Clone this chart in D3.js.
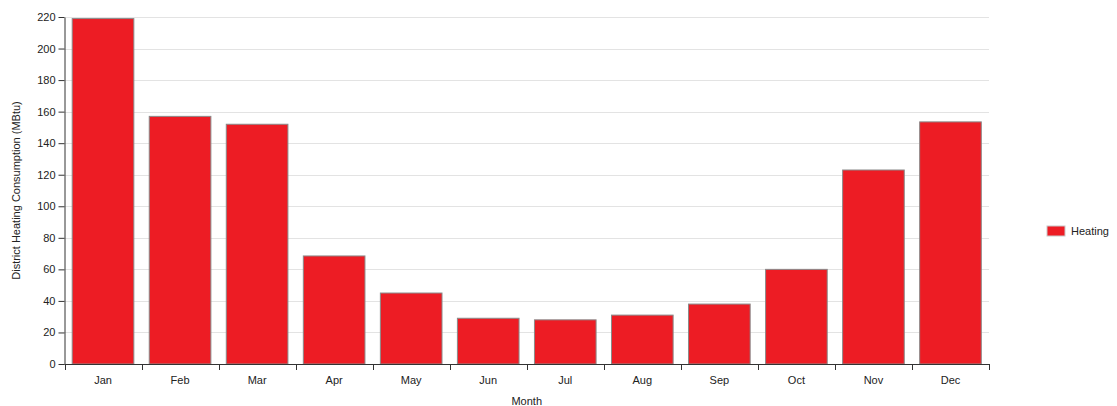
<!DOCTYPE html>
<html>
<head>
<meta charset="utf-8">
<script src="https://cdn.jsdelivr.net/npm/d3@7"></script>
<style>
  body { margin: 0; background: #fff; }
  svg { font-family: Arial, "Liberation Sans", sans-serif; }
  .axis path, .axis line { stroke: #333; }
  .axis text { fill: #222; font-size: 11px; }
  .grid line { stroke: #e3e3e3; }
</style>
</head>
<body>
<svg id="chart" width="1117" height="406"></svg>
<script>
const months = ["Jan", "Feb", "Mar", "Apr", "May", "Jun", "Jul", "Aug", "Sep", "Oct", "Nov", "Dec"];
const heating = [219, 157, 152, 68.5, 45, 29, 28, 31, 38, 60, 123, 153.5];
const yTicks = [0, 20, 40, 60, 80, 100, 120, 140, 160, 180, 200, 220];
const seriesName = "Heating";

const margin = { left: 64.5, right: 128, top: 17, bottom: 42 };
const W = 1117, H = 406;
const svg = d3.select("#chart");

const x = d3.scaleBand().domain(months).range([margin.left, W - margin.right]).paddingInner(0.2).paddingOuter(0.1);
const y = d3.scaleLinear().domain([0, 220]).range([H - margin.bottom, margin.top]);

// horizontal gridlines
svg.append("g").attr("class", "grid")
  .selectAll("line").data(yTicks.slice(1)).join("line")
  .attr("x1", margin.left).attr("x2", W - margin.right)
  .attr("y1", d => Math.round(y(d)) + 0.5).attr("y2", d => Math.round(y(d)) + 0.5);

// bars
svg.append("g").selectAll("rect").data(months).join("rect")
  .attr("x", d => x(d))
  .attr("y", (d, i) => y(heating[i]))
  .attr("width", x.bandwidth())
  .attr("height", (d, i) => y(0) - y(heating[i]))
  .attr("fill", "#ed1c24")
  .attr("stroke", "#8a8a8a")
  .attr("stroke-width", 1);

// y axis
svg.append("g").attr("class", "axis")
  .attr("transform", `translate(${margin.left},0)`)
  .call(d3.axisLeft(y).tickValues(yTicks).tickSize(6).tickSizeOuter(0));

// x axis with ticks at band boundaries
const xAxis = svg.append("g").attr("class", "axis")
  .attr("transform", `translate(0,${y(0)})`);
xAxis.append("line")
  .attr("x1", margin.left).attr("x2", W - margin.right)
  .attr("y1", 0.5).attr("y2", 0.5).attr("stroke", "#333");
const step = x.step();
const bounds = d3.range(months.length + 1).map(i => margin.left + i * (W - margin.right - margin.left) / months.length);
xAxis.selectAll(".b").data(bounds).join("line").attr("class", "b")
  .attr("x1", d => Math.round(d) + 0.5).attr("x2", d => Math.round(d) + 0.5)
  .attr("y1", 0).attr("y2", 6);
xAxis.selectAll("text").data(months).join("text")
  .attr("x", d => x(d) + x.bandwidth() / 2)
  .attr("y", 20)
  .attr("text-anchor", "middle")
  .text(d => d);

// axis titles
svg.append("text")
  .attr("transform", `translate(20,${(margin.top + H - margin.bottom) / 2}) rotate(-90)`)
  .attr("text-anchor", "middle")
  .attr("font-size", 11).attr("fill", "#222")
  .text("District Heating Consumption (MBtu)");
svg.append("text")
  .attr("x", (margin.left + W - margin.right) / 2).attr("y", 405)
  .attr("text-anchor", "middle")
  .attr("font-size", 11).attr("fill", "#222")
  .text("Month");

// legend
const lg = svg.append("g").attr("transform", "translate(1047,226)");
lg.append("rect").attr("width", 18).attr("height", 10).attr("fill", "#ed1c24").attr("stroke", "#c8c8c8");
lg.append("text").attr("x", 24).attr("y", 9).attr("font-size", 11).attr("fill", "#222").text(seriesName);
</script>
</body>
</html>
